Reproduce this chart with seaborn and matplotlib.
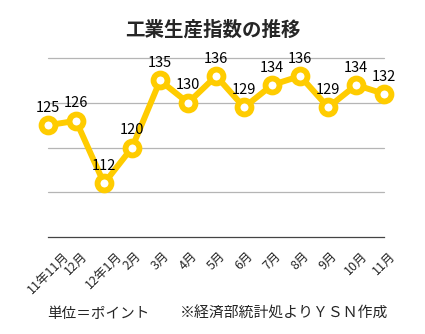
import matplotlib
matplotlib.use("Agg")
import matplotlib.pyplot as plt
import seaborn as sns
import pandas as pd

months = ["11年11月", "12月", "12年1月", "2月", "3月", "4月", "5月", "6月",
          "7月", "8月", "9月", "10月", "11月"]
values = [125, 126, 112, 120, 135, 130, 136, 129, 134, 136, 129, 134, 132]
yticks = [100, 110, 120, 130, 140]

sns.set_theme(style="white")
plt.rcParams['font.family'] = ['Noto Sans CJK JP', 'DejaVu Sans']

df = pd.DataFrame({"idx": range(len(months)), "month": months, "value": values})

fig = plt.figure(figsize=(4.25, 3.34), dpi=100)
ax = fig.add_axes([0.113, 0.290, 0.791, 0.536])

for y in yticks[1:]:
    ax.axhline(y, color="#b5b5b5", lw=0.9, zorder=0)

sns.lineplot(data=df, x="idx", y="value", ax=ax, color="#FFCC00", lw=4.3,
             marker="o", markersize=10, markerfacecolor="white",
             markeredgecolor="#FFCC00", markeredgewidth=4.2, zorder=3)
for line in ax.lines:
    line.set_clip_on(False)

for i, v in enumerate(values):
    ax.annotate(str(v), (i, v), xytext=(0, 7.5), textcoords="offset points",
                ha="center", va="bottom", fontsize=10.5, color="black", zorder=4)

ax.set_xlim(0, len(months) - 1)
ax.set_ylim(100, 140)
ax.set_xticks(range(len(months)))
ax.set_xticklabels(months, rotation=45, ha="center", fontsize=9)
ax.set_yticks([])
ax.set_xlabel("")
ax.set_ylabel("")
ax.tick_params(axis="x", length=0, pad=9)
for s in ["top", "right", "left"]:
    ax.spines[s].set_visible(False)
ax.spines["bottom"].set_color("#444444")
ax.spines["bottom"].set_linewidth(0.9)

fig.text(0.5, 0.909, "工業生産指数の推移", ha="center", va="center",
         fontsize=14, fontweight="bold")
fig.text(0.11, 0.06, "単位＝ポイント", ha="left", va="center", fontsize=10.5)
fig.text(0.913, 0.06, "※経済部統計処よりＹＳＮ作成", ha="right", va="center", fontsize=10.7)

fig.savefig("out.png", dpi=100, facecolor="white")
